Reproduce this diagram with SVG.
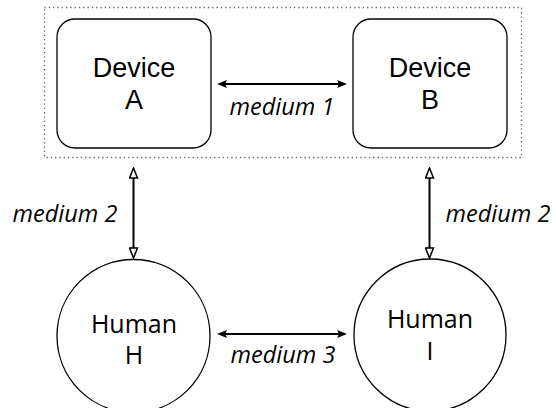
<svg xmlns="http://www.w3.org/2000/svg" width="556" height="408" viewBox="0 0 556 408">
<style>
.box{fill:#fff;stroke:#000;stroke-width:1.3}
.grp{fill:none;stroke:#666;stroke-width:1.3;stroke-dasharray:1.3 3}
.dev{font-family:"Liberation Sans",Arial,sans-serif;font-size:27px;fill:#000;text-anchor:middle}
.hum{font-family:"Open Sans","Noto Sans",sans-serif;font-size:25px;fill:#000;text-anchor:middle}
.lbl{font-family:"Open Sans","Noto Sans",sans-serif;font-style:italic;font-size:23.5px;fill:#000;text-anchor:middle}
.con{fill:none;stroke:#000;stroke-width:2}
</style>
<defs>
<marker id="fill" viewBox="0 0 10 8" refX="2" refY="4" markerWidth="10" markerHeight="8" markerUnits="userSpaceOnUse" orient="auto-start-reverse">
<path d="M0,0 L10,4 L0,8 L2,4 z" fill="#000"/>
</marker>
<marker id="open" viewBox="-1 -1 12 10" refX="0" refY="4" markerWidth="12" markerHeight="10" markerUnits="userSpaceOnUse" orient="auto-start-reverse">
<path d="M0,0 L10,4 L0,8 z" fill="#fff" stroke="#000" stroke-width="1.5"/>
</marker>
</defs>
<rect class="grp" x="44.5" y="7.5" width="477" height="150"/>
<g id="deviceA">
<rect class="box" x="57" y="19" width="154" height="129" rx="18"/>
<text class="dev" x="134" y="77">Device</text>
<text class="dev" x="134" y="109">A</text>
</g>
<g id="deviceB">
<rect class="box" x="353" y="19" width="154" height="129" rx="18"/>
<text class="dev" x="430" y="77">Device</text>
<text class="dev" x="430" y="109">B</text>
</g>
<g id="humanH">
<circle class="box" cx="133.5" cy="336" r="76.5"/>
<text class="hum" x="134" y="333">Human</text>
<text class="hum" x="134" y="364">H</text>
</g>
<g id="humanI">
<circle class="box" cx="430" cy="335" r="76"/>
<text class="hum" x="430" y="328">Human</text>
<text class="hum" x="430" y="360">I</text>
</g>
<g id="connectors">
<line class="con" x1="225" y1="84" x2="339" y2="84" marker-start="url(#fill)" marker-end="url(#fill)"/>
<line class="con" x1="225" y1="334" x2="339" y2="334" marker-start="url(#fill)" marker-end="url(#fill)"/>
<line class="con" x1="133.5" y1="178" x2="133.5" y2="248" marker-start="url(#open)" marker-end="url(#open)"/>
<line class="con" x1="429.5" y1="178" x2="429.5" y2="248" marker-start="url(#open)" marker-end="url(#open)"/>
<text class="lbl" x="282" y="115">medium 1</text>
<text class="lbl" x="283" y="363">medium 3</text>
<text class="lbl" x="65" y="222">medium 2</text>
<text class="lbl" x="498" y="222">medium 2</text>
</g>
</svg>
